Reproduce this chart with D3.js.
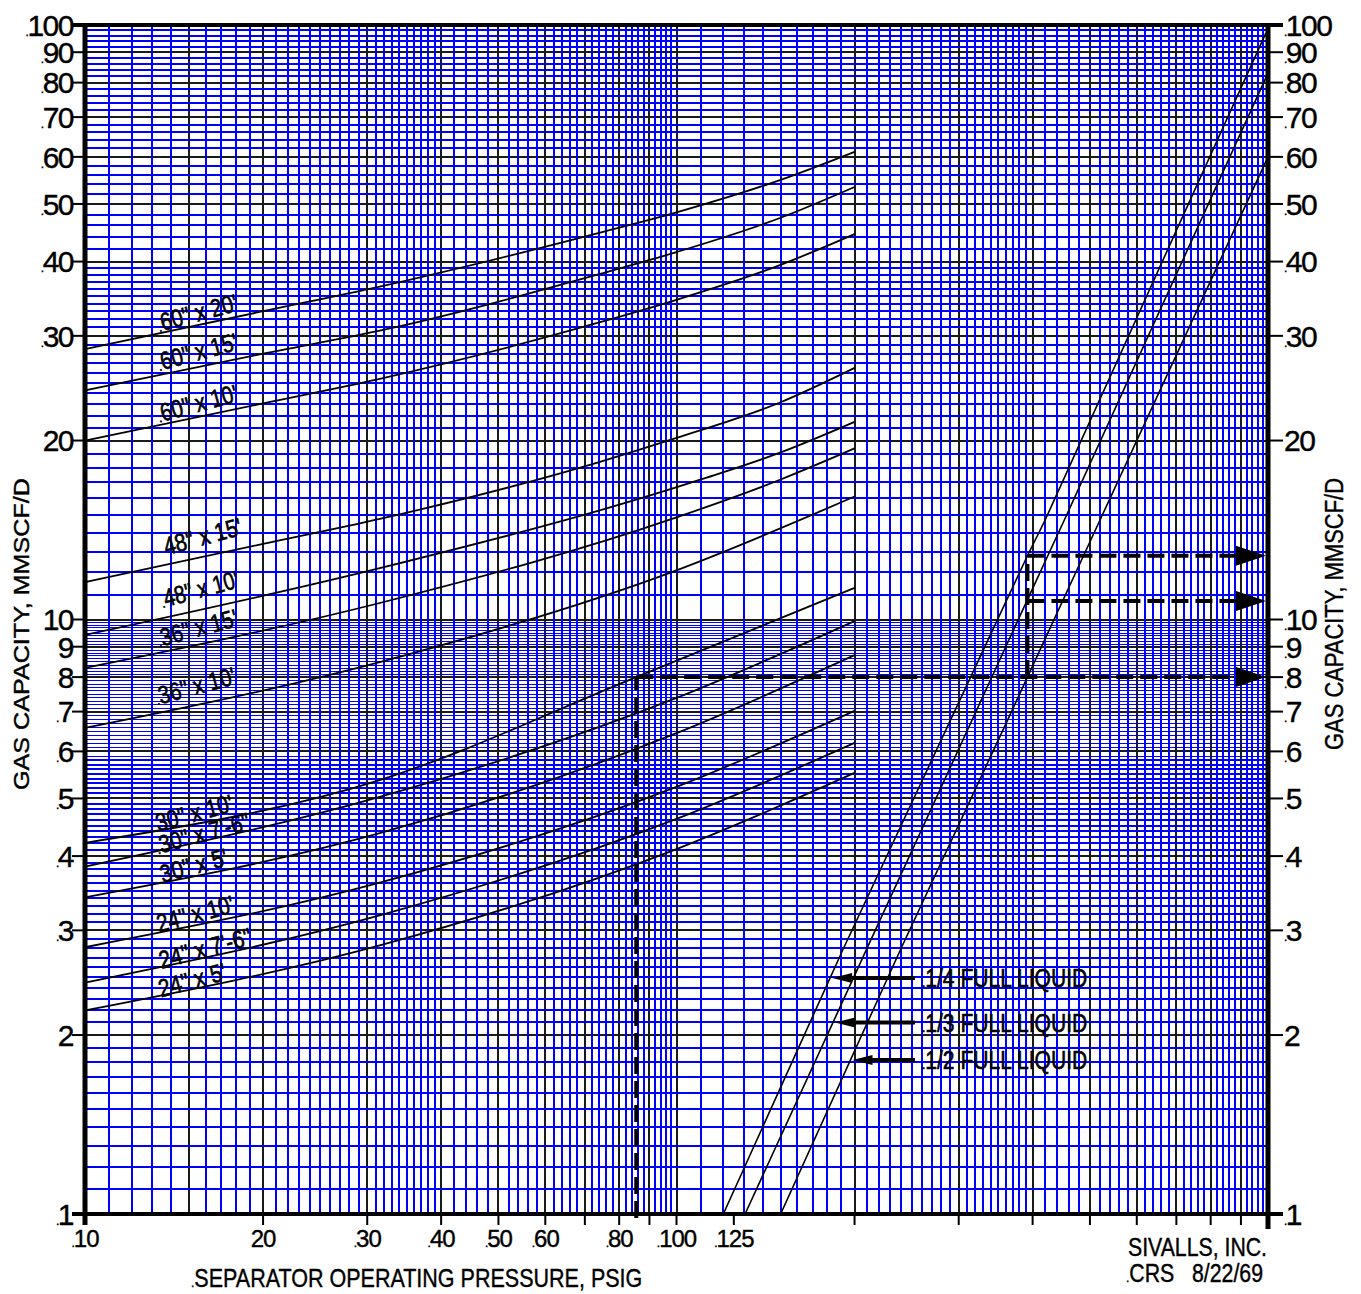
<!DOCTYPE html>
<html>
<head>
<meta charset="utf-8">
<script src="https://cdn.jsdelivr.net/npm/d3@7"></script>
<style>
  html, body { margin: 0; padding: 0; background: #fff; }
  svg { display: block; font-family: "Liberation Sans", Arial, sans-serif; }
  text { fill: #000; stroke: #000; stroke-width: 0.4px; }
  .lbl { stroke-width: 0.6px; }
</style>
</head>
<body>
<svg id="chart" width="1361" height="1294"></svg>
<script>
// ---- Axis ticks and labels ----
const xTickValues = [10, 20, 30, 40, 50, 60, 70, 80, 90, 100, 125, 200, 300, 400, 500, 600, 700, 800, 900, 1000];
const xTickLabels = [[10, ".10"], [20, "20"], [30, ".30"], [40, ".40"], [50, ".50"], [60, ".60"], [80, ".80"], [100, ".100"], [125, ".125"]];
const yTickValues = [1, 2, 3, 4, 5, 6, 7, 8, 9, 10, 20, 30, 40, 50, 60, 70, 80, 90, 100];
const yLeftLabels = [".1", "2", ".3", ".4", ".5", ".6", ".7", "8", "9", "10", "20", ".30", ".40", ".50", ".60", ".70", ".80", ".90", ".100"];
const yRightLabels = [".1", "2", ".3", ".4", ".5", ".6", ".7", ".8", ".9", ".10", "20", ".30", ".40", ".50", ".60", ".70", ".80", ".90", ".100"];

// ---- Gas capacity curves: [pressure psig, capacity MMSCF/D] ----
const cap60x20 = [[10, 28.5], [20, 33.0], [31.5, 36.3], [74, 44.7], [100, 48.4], [150, 54.9], [200, 61.2]];
const cap60x15 = [[10, 24.3], [20, 28.0], [31.5, 30.6], [74, 38.1], [100, 41.5], [150, 47.4], [200, 53.4]];
const cap60x10 = [[10, 20.0], [20, 23.1], [31.5, 25.4], [74, 31.6], [100, 34.5], [150, 39.5], [200, 44.5]];
const cap48x15 = [[10, 11.56], [20, 13.4], [31.5, 14.76], [74, 18.4], [100, 20.2], [150, 23.2], [200, 26.5]];
const cap48x10 = [[10, 9.42], [31.5, 12.2], [110, 17.2], [150, 19.1], [200, 21.5]];
const cap36x15 = [[10, 8.29], [31.5, 10.66], [100, 14.85], [150, 17.2], [200, 19.4]];
const cap36x10 = [[10, 6.57], [31.5, 8.48], [100, 12.1], [200, 16.1]];
const cap30x10 = [[10, 4.21], [31.5, 5.37], [85.5, 8.0], [200, 11.3]];
const cap30x76 = [[10, 3.84], [31.5, 5.03], [100, 7.38], [200, 9.94]];
const cap30x5  = [[10, 3.41], [31.5, 4.37], [100, 6.44], [200, 8.71]];
const cap24x10 = [[10, 2.81], [31.5, 3.61], [100, 5.23], [200, 7.02]];
const cap24x76 = [[10, 2.45], [31.5, 3.18], [100, 4.62], [200, 6.20]];
const cap24x5  = [[10, 2.20], [31.5, 2.83], [100, 4.11], [200, 5.52]];

const capacityCurves = [cap60x20, cap60x15, cap60x10, cap48x15, cap48x10, cap36x15, cap36x10,
                        cap30x10, cap30x76, cap30x5, cap24x10, cap24x76, cap24x5];
const sizeNames = ['.60" x 20\'', '.60" x 15\'', '.60" x 10\'', '48" x 15\'', '.48" x 10\'', '.36" x 15\'', '.36" x 10\'',
                   '30" x 10\'', '.30" x 7\'-6"', '.30" x 5\'', '24" x 10\'', '24" x 7\'-6"', '24" x 5\''];
// label anchor in data units [pressure, capacity] and text length
const sizeLabelAt = [[15.46, 32.8], [15.46, 28.2], [15.46, 23.1], [15.8, 13.8], [15.6, 11.25], [15.46, 9.68], [15.35, 7.73],
                     [15.29, 4.73], [15.8, 4.37], [15.17, 3.85], [15.35, 3.20], [15.96, 2.80], [15.17, 2.475]];
const sizeLabelLen = [79, 79, 79, 80, 77, 79, 79, 79, 93, 69, 79, 95, 69];

// ---- Liquid level lines ----
const liquidQuarter = [[120, 1], [191, 2.78], [326, 8.65], [392, 12.8], [420, 14.7], [992, 97]];
const liquidThird   = [[130.6, 1], [210, 2.8], [391, 10.74], [454, 14.8], [1000, 83]];
const liquidHalf    = [[150, 1], [239, 2.78], [363, 6.78], [392, 8.0], [520, 14.7], [1000, 60]];
const liquidLines = [liquidQuarter, liquidThird, liquidHalf];
const liquidNames = ["1/4 FULL LIQUID", "1/3 FULL LIQUID", "1/2 FULL LIQUID"];
const liquidLegendCap = [2.495, 2.10, 1.816];

// ---- Worked example (dashed) ----
const examplePressure = 85.5;
const exampleCapacity = 8.0;
const upperPressure = 392;
const upperCapacities = [12.8, 10.74, 8.0];

// ---- Drawing ----
const svg = d3.select("#chart");
const x = d3.scaleLog().domain([10, 1000]).range([85, 1268]);
const y = d3.scaleLog().domain([1, 100]).range([1214, 25]);
const X0 = x.range()[0], X1 = x.range()[1], Y0 = y.range()[0], Y1 = y.range()[1];

const xMajor = [15, 20, 30, 40, 50, 60, 70, 80, 90, 100, 200, 300, 400, 500, 600, 700, 800, 900];
const xMinor = [...d3.range(11, 40, 1), ...d3.range(40, 100, 2), ...d3.range(100, 400, 10), ...d3.range(400, 1000, 20)]
  .filter(v => v > 10 && !xMajor.includes(v));
const yMajor = [2, 3, 4, 5, 6, 7, 8, 9, 10, 20, 30, 40, 50, 60, 70, 80, 90];
const yMinor = [...d3.range(11, 100, 1).map(v => v / 10), ...d3.range(10, 40, 1), ...d3.range(40, 100, 2)]
  .filter(v => v > 1 && !yMajor.some(m => Math.abs(m - v) < 1e-9));

// thinner lines where the ruling is tight, so white still shows between them
function widthFor(values, scale, v) {
  const all = [...values, ...scale.domain()].map(d => scale(d));
  const p = scale(v);
  let gap = Infinity;
  all.forEach(q => { const d = Math.abs(q - p); if (d > 0.01 && d < gap) gap = d; });
  return gap >= 4.4 ? 2 : 1;
}
const snap = (p, w) => Math.round(p) + (w % 2 ? 0.5 : 0);
const xAll = [...xMinor, ...xMajor], yAll = [...yMinor, ...yMajor];

const grid = svg.append("g").attr("shape-rendering", "crispEdges");
grid.selectAll(".vmaj").data(xMajor).join("line")
  .attr("x1", d => snap(x(d), 2)).attr("x2", d => snap(x(d), 2)).attr("y1", Y1).attr("y2", Y0)
  .attr("stroke", "#1a1a1a").attr("stroke-width", 2);
grid.selectAll(".hmaj").data(yMajor).join("line")
  .attr("y1", d => snap(y(d), 2)).attr("y2", d => snap(y(d), 2)).attr("x1", X0).attr("x2", X1)
  .attr("stroke", "#1a1a1a").attr("stroke-width", 2);
grid.selectAll(".vmin").data(xMinor).join("line")
  .each(function (d) {
    const w = widthFor(xAll, x, d), p = snap(x(d), w);
    d3.select(this).attr("x1", p).attr("x2", p).attr("stroke-width", w);
  })
  .attr("y1", Y1).attr("y2", Y0).attr("stroke", "#0000ff");
grid.selectAll(".hmin").data(yMinor).join("line")
  .each(function (d) {
    const w = widthFor(yAll, y, d), p = snap(y(d), w);
    d3.select(this).attr("y1", p).attr("y2", p).attr("stroke-width", w);
  })
  .attr("x1", X0).attr("x2", X1).attr("stroke", "#0000ff");

// text with a small leading dot
function dottedText(sel, s, len) {
  if (s.startsWith(".")) {
    sel.append("tspan").attr("font-size", 12).text(".");
    const t = sel.append("tspan").text(s.slice(1));
    if (len) t.attr("textLength", len).attr("lengthAdjust", "spacingAndGlyphs");
  } else if (len) {
    sel.attr("textLength", len).attr("lengthAdjust", "spacingAndGlyphs").text(s);
  } else {
    sel.text(s);
  }
}

// ---- Axes ----
const axes = svg.append("g").attr("stroke", "#000");
axes.selectAll(".lt").data(yTickValues).join("line")
  .attr("x1", X0 - 13).attr("x2", X0).attr("y1", d => y(d)).attr("y2", d => y(d)).attr("stroke-width", 2);
axes.selectAll(".rt").data(yTickValues).join("line")
  .attr("x1", X1).attr("x2", X1 + 15).attr("y1", d => y(d)).attr("y2", d => y(d)).attr("stroke-width", 2);
axes.selectAll(".bt").data(xTickValues).join("line")
  .attr("x1", d => x(d)).attr("x2", d => x(d)).attr("y1", Y0).attr("y2", Y0 + 11).attr("stroke-width", 2);

// frame
svg.append("line").attr("x1", X0 - 13).attr("x2", X1 + 15).attr("y1", Y1).attr("y2", Y1).attr("stroke", "#000").attr("stroke-width", 4);
svg.append("line").attr("x1", X0 - 13).attr("x2", X1 + 15).attr("y1", Y0).attr("y2", Y0).attr("stroke", "#000").attr("stroke-width", 4);
svg.append("line").attr("x1", X0).attr("x2", X0).attr("y1", Y1).attr("y2", Y0 + 11).attr("stroke", "#000").attr("stroke-width", 5);
svg.append("line").attr("x1", X1).attr("x2", X1).attr("y1", Y1).attr("y2", Y0 + 15).attr("stroke", "#000").attr("stroke-width", 5);

// y labels
yTickValues.forEach((v, i) => {
  const tl = svg.append("text").attr("x", X0 - 12).attr("y", y(v)).attr("dy", "0.36em")
    .attr("text-anchor", "end").attr("font-size", 30).attr("letter-spacing", -1.5);
  dottedText(tl, yLeftLabels[i]);
  const tr = svg.append("text").attr("x", X1 + 16).attr("y", y(v)).attr("dy", "0.36em")
    .attr("text-anchor", "start").attr("font-size", 30).attr("letter-spacing", -1.5);
  dottedText(tr, yRightLabels[i]);
});
// x labels
xTickLabels.forEach(([v, s]) => {
  const t = svg.append("text").attr("x", x(v)).attr("y", Y0 + 33)
    .attr("text-anchor", "middle").attr("font-size", 24).attr("letter-spacing", -1);
  dottedText(t, s);
});

// axis titles
const xt = svg.append("text").attr("x", 191).attr("y", 1287).attr("font-size", 26);
dottedText(xt, ".SEPARATOR OPERATING PRESSURE, PSIG", 448);
svg.append("text").attr("transform", "translate(29,790) rotate(-90)").attr("font-size", 22)
  .attr("textLength", 312).attr("lengthAdjust", "spacingAndGlyphs").text("GAS CAPACITY, MMSCF/D");
svg.append("text").attr("transform", "translate(1343,750) rotate(-90)").attr("font-size", 25)
  .attr("textLength", 272).attr("lengthAdjust", "spacingAndGlyphs").text("GAS CAPACITY, MMSCF/D");

svg.append("text").attr("x", 1128).attr("y", 1256).attr("font-size", 26)
  .attr("textLength", 139).attr("lengthAdjust", "spacingAndGlyphs").text("SIVALLS, INC.");
const crs = svg.append("text").attr("x", 1126).attr("y", 1282).attr("font-size", 26);
crs.append("tspan").attr("font-size", 12).text(".");
crs.append("tspan").attr("textLength", 45).attr("lengthAdjust", "spacingAndGlyphs").text("CRS");
crs.append("tspan").attr("x", 1192).attr("textLength", 71).attr("lengthAdjust", "spacingAndGlyphs").text("8/22/69");

// ---- Capacity curves ----
const line = d3.line().x(d => x(d[0])).y(d => y(d[1])).curve(d3.curveMonotoneX);
svg.append("g").selectAll("path").data(capacityCurves).join("path")
  .attr("d", line).attr("fill", "none").attr("stroke", "#000").attr("stroke-width", 1.8);

sizeNames.forEach((s, i) => {
  const [p, c] = sizeLabelAt[i];
  const t = svg.append("text").attr("class", "lbl")
    .attr("transform", `translate(${x(p)},${y(c)}) rotate(-15)`)
    .attr("text-anchor", "middle").attr("dy", "0.35em").attr("font-size", 25);
  dottedText(t, s, sizeLabelLen[i]);
});

// ---- Liquid level lines ----
const straight = d3.line().x(d => x(d[0])).y(d => y(d[1]));
svg.append("g").selectAll("path").data(liquidLines).join("path")
  .attr("d", straight).attr("fill", "none").attr("stroke", "#000").attr("stroke-width", 1.6);

// pressure on a liquid line at a given capacity (log-log interpolation)
function pressureAt(pts, cap) {
  for (let i = 1; i < pts.length; i++) {
    if (cap <= pts[i][1]) {
      const a = pts[i - 1], b = pts[i];
      const t = (Math.log(cap) - Math.log(a[1])) / (Math.log(b[1]) - Math.log(a[1]));
      return Math.exp(Math.log(a[0]) + t * (Math.log(b[0]) - Math.log(a[0])));
    }
  }
  return pts[pts.length - 1][0];
}

const legendTail = 253;
liquidNames.forEach((s, i) => {
  const c = liquidLegendCap[i];
  const tip = x(pressureAt(liquidLines[i], c)) + 2;
  const yy = y(c);
  svg.append("line").attr("x1", x(legendTail)).attr("x2", tip + 14).attr("y1", yy).attr("y2", yy)
    .attr("stroke", "#000").attr("stroke-width", 4);
  svg.append("path").attr("d", `M${tip},${yy} L${tip + 20},${yy - 5} L${tip + 20},${yy + 5} Z`).attr("fill", "#000");
  const t = svg.append("text").attr("class", "lbl").attr("x", x(legendTail) + 7).attr("y", yy).attr("dy", "0.36em").attr("font-size", 26);
  dottedText(t, "." + s, 162);
});

// ---- Dashed example lines with arrows ----
const dash = svg.append("g").attr("stroke", "#000").attr("stroke-width", 4).attr("stroke-dasharray", "17,7").attr("fill", "none");
dash.append("line").attr("x1", x(examplePressure)).attr("x2", x(examplePressure)).attr("y1", Y0 + 4).attr("y2", y(exampleCapacity));
dash.append("line").attr("x1", x(upperPressure)).attr("x2", x(upperPressure)).attr("y1", y(exampleCapacity)).attr("y2", y(upperCapacities[0]));
upperCapacities.forEach((c, i) => {
  const start = i === 2 ? x(examplePressure) : x(upperPressure);
  dash.append("line").attr("x1", start).attr("x2", X1 - 28).attr("y1", y(c)).attr("y2", y(c));
  svg.append("path").attr("d", `M${X1 - 2},${y(c)} L${X1 - 32},${y(c) - 10} L${X1 - 32},${y(c) + 10} Z`).attr("fill", "#000");
});
</script>
</body>
</html>
